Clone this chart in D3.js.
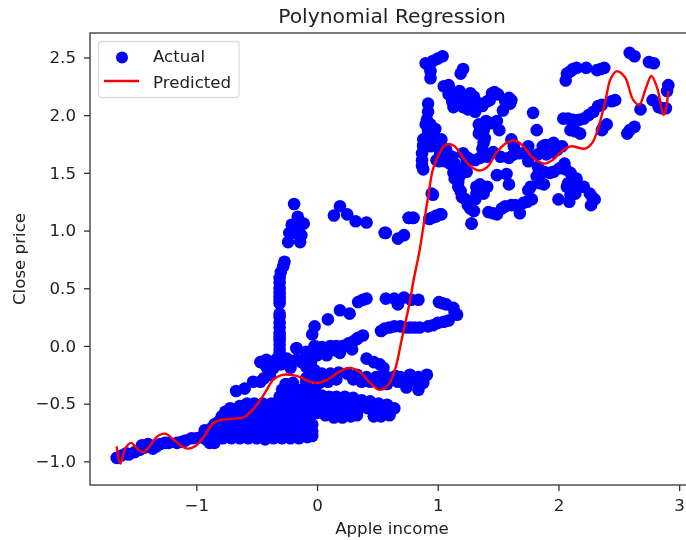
<!DOCTYPE html>
<html>
<head>
<meta charset="utf-8">
<script src="https://cdn.jsdelivr.net/npm/d3@7"></script>
<style>
html,body{margin:0;padding:0;background:#fff;overflow:hidden;}
svg{display:block;filter:blur(0.35px);}
text{font-family:"DejaVu Sans",sans-serif;fill:#222;}
</style>
</head>
<body>
<div id="chart"></div>
<script>
const chartTitle = "Polynomial Regression";
const xLabel = "Apple income";
const yLabel = "Close price";
const legendLabels = ["Actual", "Predicted"];
const xTicks = [-1, 0, 1, 2, 3];
const yTicks = [-1.0, -0.5, 0.0, 0.5, 1.0, 1.5, 2.0, 2.5];

const lowerBand = [[-1.66,-.97],[-1.62,-.95],[-1.58,-.93],[-1.56,-.94],[-1.51,-.92],[-1.47,-.90],[-1.45,-.86],[-1.43,-.88],[-1.40,-.85],[-1.36,-.89],[-1.33,-.87],[-1.30,-.85],[-1.26,-.84],[-1.23,-.84],[-1.16,-.84],[-1.12,-.83],[-1.09,-.82],[-1.04,-.80],[-1.0,-.8],[-.96,-.79],[-.92,-.81],[-.89,-.84],[-.85,-.84],[-.9,-.77],[-.93,-.73],[-.87,-.71],[-.82,-.66],[-.79,-.61],[-.72,-.54],[-.64,-.52],[-.60,-.57],[-.67,-.60],[-.70,-.58],[-.58,-.50],[-.75,-.58]];
const denseCloud = [
[-.78,-.80],[-.71,-.80],[-.64,-.80],[-.57,-.80],[-.50,-.80],[-.43,-.81],[-.36,-.80],[-.29,-.80],[-.22,-.80],[-.15,-.80],[-.08,-.79],[-.04,-.78],
[-.85,-.74],[-.78,-.74],[-.71,-.74],[-.64,-.74],[-.57,-.74],[-.50,-.74],[-.43,-.74],[-.36,-.74],[-.29,-.74],[-.22,-.74],[-.15,-.74],[-.08,-.74],[-.04,-.74],
[-.85,-.68],[-.78,-.68],[-.71,-.68],[-.64,-.68],[-.57,-.68],[-.50,-.68],[-.43,-.68],[-.36,-.68],[-.29,-.68],[-.22,-.68],[-.15,-.68],[-.08,-.68],[-.04,-.68],
[-.76,-.62],[-.69,-.62],[-.62,-.62],[-.55,-.62],[-.48,-.62],[-.41,-.62],[-.34,-.62],[-.27,-.62],[-.20,-.62],[-.13,-.62],[-.06,-.62],
[-.76,-.57],[-.69,-.56],[-.62,-.56],[-.53,-.56],[-.46,-.56],[-.39,-.56],[-.32,-.56],[-.25,-.56],[-.18,-.56],[-.11,-.56],[-.04,-.56],
[-.52,-.50],[-.45,-.50],[-.38,-.50],[-.31,-.50],[-.24,-.50],[-.17,-.50],[-.10,-.50],[-.03,-.50],[.04,-.50],
[-.31,-.44],[-.24,-.44],[-.17,-.44],[-.10,-.44],[-.03,-.44],[.04,-.43],[.10,-.44],
[-.29,-.38],[-.23,-.38],[-.16,-.38],[-.09,-.38],[-.02,-.38],[-.26,-.33],[-.2,-.32]];
const rightBand = [[.16,-.44],[.23,-.44],[.30,-.45],[.37,-.47],[.44,-.48],[.51,-.50],[.58,-.51],[.64,-.54],[0,-.58],[.07,-.60],[.14,-.62],[.21,-.62],[.28,-.61],[.33,-.60],[.47,-.61],[.53,-.61],[.60,-.60],[.07,-.54],[.14,-.54],[.21,-.54],[.28,-.54],[.35,-.54],[.42,-.54],[.49,-.55],[.56,-.55],[.11,-.49],[.18,-.49],[.25,-.49],[.32,-.50]];
const upperBand = [[-.67,-.39],[-.60,-.37],[-.53,-.31],[-.44,-.28],[-.39,-.25],[-.47,-.31],[-.47,-.14],[-.42,-.12],[-.33,-.11],[-.25,-.11],[-.17,-.02],[-.17,-.12],[-.09,-.08],[-.02,-.02],[.05,-.02],[.12,-.01],[0,-.08],[.08,-.08],[.19,-.06],[.29,-.03],[.26,.02],[.33,.06],[-.42,-.18],[-.22,-.19],[-.09,-.18],[-.02,-.21],[-.37,-.14],[-.36,-.19],[-.3,-.16],[-.24,-.15],[-.13,-.14],[-.05,-.14],[.04,-.05],[.16,-.04],[-.09,-.05],
[-.09,-.28],[-.03,-.26],[.04,-.24],[.11,-.24],[.18,-.23],[.25,-.24],[.33,-.25],[.41,-.27],[.49,-.27],[.58,-.27],[.65,-.26],[.69,-.27],[.77,-.25],[.84,-.27],[.91,-.25],[.74,-.36],[.84,-.38],[.88,-.32],[.8,-.3],[.41,-.11],[.47,-.14],[.52,-.16],[.55,-.19],[-.09,-.32],[.02,-.32],[.09,-.31],[.16,-.29],[.3,-.29],[.37,-.31],[.44,-.31],[.52,-.33],[.58,-.33],[.67,-.31],[.74,-.31]];
const column = [[-.19,1.23],[-.16,1.12],[-.11,1.06],[-.21,1.05],[-.15,1.05],[-.18,1.03],[-.23,.98],[-.13,.96],[-.24,.90],[-.14,.90],[-.18,.98],[-.27,.73],[-.28,.69],[-.30,.64],[-.31,.59],[-.31,.55],[-.31,.50],[-.31,.46],[-.31,.43],[-.31,.40],[-.31,.37],[-.31,.28],[-.31,.25],[-.31,.20],[-.31,.16],[-.31,.11],[-.31,.08],[-.31,.05],[-.31,.01],[-.31,-.03],[-.31,-.07]];
const midArcs = [[.14,1.13],[.19,1.21],[.25,1.14],[.32,1.08],[.41,1.07],[.57,.98],[.67,.93],[.72,.96],[.76,1.11],[.80,1.11],[.93,1.10],[.98,1.12],[1.03,1.14],[.96,1.31],[1.28,1.06],[-.02,.17],[-.04,.10],[.09,.23],[.19,.31],[.27,.28],[.34,.38],[.38,.40],[.41,.41],[.57,.41],[.64,.41],[.67,.36],[.72,.42],[.78,.40],[.84,.40],[1.01,.38],[1.04,.37],[1.07,.36],[1.13,.33],[1.14,.29],[1.16,.27],[1.09,.22],[1.05,.21],[1.00,.20],[.96,.18],[.92,.17],[.85,.16],[.81,.16],[.77,.16],[.73,.16],[.69,.17],[.64,.17],[.60,.16],[.56,.15],[.53,.13],[.38,.09],[.34,.07],[.30,.04],[.26,.02],[.21,.0],[.11,0],[.04,-.01],[-.02,0],[-.17,-.02],[.16,0]];
const upperCloud = [[.90,2.45],[.96,2.47],[1.04,2.51],[1.0,2.49],[.94,2.38],[.94,2.32],[.93,2.42],[1.19,2.36],[1.21,2.40],[1.05,2.25],[1.09,2.18],[1.13,2.07],[1.18,2.21],[1.20,2.13],[1.27,2.19],[1.31,2.03],[1.35,2.10],[1.41,2.12],[1.47,2.20],[1.50,2.18],[1.59,2.15],[1.60,2.10],[1.54,2.04],[1.79,2.02],[1.82,1.87],[1.49,1.95],[1.40,1.95],[1.34,1.92],[1.51,1.87],[1.34,1.84],[1.39,1.80],[1.37,1.71],[1.61,1.79],[.92,2.10],[.91,1.96],[.92,1.87],[.98,1.88],[.88,1.79],[.88,1.73],[.95,1.79],[1.03,1.79],[.87,1.61],[.88,1.53],[.99,1.61],[1.06,1.67],[1.10,1.58],[1.21,1.67],[1.31,1.61],[1.46,1.68],[1.59,1.63],[1.68,1.67],[1.75,1.73],[1.75,1.60],[1.89,1.74],[1.96,1.76],[2.03,1.73],[1.90,1.66],[1.13,1.50],[1.18,1.47],[1.17,1.38],[1.20,1.29],[1.25,1.22],[1.30,1.17],[1.35,1.40],[1.38,1.32],[1.31,1.27],[.95,1.32],[1.49,1.48],[1.57,1.49],[1.59,1.40],[1.77,1.38],[1.78,1.27],[1.71,1.24],[1.64,1.22],[1.68,1.15],[1.56,1.21],[1.49,1.14],[1.42,1.16],[1.28,1.06],[1.86,1.51],[1.88,1.40],[1.96,1.51],[2.05,1.58],[2.10,1.50],[2.15,1.45],[2.21,1.38],[2.07,1.38],[2.10,1.31],[2.00,1.27],[2.09,1.25],[2.26,1.32],[2.30,1.27],[2.27,1.22],[1.02,1.14],[.95,1.11],[.79,1.11],[.56,.98],
[1.09,2.26],[1.12,2.12],[1.16,2.16],[1.21,2.16],[1.24,2.12],[1.21,2.07],[1.27,2.10],[1.32,2.09],[1.30,2.16],[1.37,2.08],[1.43,2.13],[1.10,2.21],[1.16,2.10],[1.25,2.05],[1.56,2.12],[1.61,2.13],[1.45,2.19],[1.28,2.05],
[.92,2.03],[.90,1.92],[.94,1.92],[.92,1.83],[.96,1.83],[.88,1.74],[.94,1.73],[.99,1.77],[.87,1.67],[.87,1.56],
[1.03,1.73],[1.07,1.70],[1.02,1.67],[1.01,1.60],[1.06,1.60],[1.14,1.58],[1.12,1.64],[1.14,1.54],[1.18,1.53],[1.14,1.45],[1.24,1.51],[1.24,1.60],[1.17,1.42],[1.25,1.63],[1.19,1.34],[1.23,1.27],[1.27,1.19],[1.32,1.38],[1.41,1.38],[1.32,1.32],
[1.35,1.63],[1.41,1.64],[1.52,1.64],[1.63,1.66],[1.74,1.67],[1.83,1.66],[1.87,1.73],[1.93,1.74],[1.99,1.70],[1.95,1.68],[1.63,1.73],[1.38,1.76],[1.38,1.87],[1.35,1.90],[1.44,1.93],
[1.82,1.47],[1.88,1.51],[1.83,1.55],[1.93,1.50],[2.01,1.54],[2.06,1.53],[2.08,1.41],[2.12,1.44],[2.11,1.35],[2.18,1.38],[2.14,1.32],[2.28,1.29],[1.85,1.41],[1.75,1.35],
[1.46,1.15],[1.53,1.19],[1.61,1.22],[1.67,1.21],[1.74,1.25],[.99,1.13],[.76,1.11]];
const topRight = [[2.06,2.30],[2.07,2.36],[2.10,2.38],[2.12,2.40],[2.15,2.41],[2.23,2.41],[2.32,2.39],[2.35,2.40],[2.38,2.41],[2.59,2.54],[2.63,2.51],[2.75,2.46],[2.79,2.45],[2.91,2.26],[2.90,2.21],[2.47,2.13],[2.44,2.12],[2.68,2.05],[2.78,2.13],[2.83,2.07],[2.86,2.06],[2.89,2.06],[2.33,2.08],[2.36,2.09],[2.29,2.03],[2.25,2.0],[2.21,1.97],[2.17,1.96],[2.12,1.96],[2.08,1.97],[2.04,1.97],[2.10,1.87],[2.14,1.86],[2.18,1.84],[2.40,1.92],[2.37,1.89],[2.36,1.87],[2.63,1.90],[2.59,1.87],[2.57,1.84]];
const predicted = [[-1.66,-.87],[-1.63,-1.02],[-1.59,-.89],[-1.54,-.84],[-1.49,-.89],[-1.44,-.92],[-1.38,-.86],[-1.33,-.79],[-1.26,-.76],[-1.19,-.81],[-1.12,-.87],[-1.07,-.89],[-1.01,-.87],[-.94,-.79],[-.86,-.67],[-.79,-.64],[-.69,-.63],[-.61,-.62],[-.53,-.55],[-.44,-.42],[-.36,-.29],[-.29,-.25],[-.22,-.25],[-.14,-.27],[-.06,-.31],[.01,-.32],[.09,-.29],[.19,-.22],[.27,-.19],[.36,-.23],[.44,-.32],[.52,-.38],[.59,-.34],[.65,-.19],[.70,.05],[.76,.34],[.80,.57],[.85,.83],[.88,1.03],[.92,1.29],[.96,1.53],[1.01,1.66],[1.05,1.73],[1.09,1.75],[1.14,1.73],[1.21,1.63],[1.28,1.55],[1.34,1.52],[1.41,1.55],[1.49,1.68],[1.57,1.76],[1.64,1.78],[1.71,1.73],[1.79,1.63],[1.88,1.58],[1.95,1.61],[2.03,1.69],[2.10,1.73],[2.22,1.71],[2.28,1.76],[2.33,1.89],[2.39,2.13],[2.43,2.31],[2.48,2.38],[2.55,2.33],[2.62,2.13],[2.67,2.09],[2.72,2.22],[2.77,2.34],[2.82,2.23],[2.87,2.00],[2.89,2.05],[2.91,2.21]];

const actual = [].concat(lowerBand, denseCloud, rightBand, upperBand, column, midArcs, upperCloud, topRight);

const W = 686, H = 540;
const box = {l: 90, r: 694, t: 33, b: 485};
const x = d3.scaleLinear().domain([-1.881, 3.123]).range([box.l, box.r]);
const y = d3.scaleLinear().domain([-1.205, 2.712]).range([box.b, box.t]);

const svg = d3.select("#chart").append("svg").attr("width", W).attr("height", H);
const plot = svg.append("g");

plot.selectAll("circle.actual").data(actual).join("circle")
  .attr("class", "actual")
  .attr("cx", d => x(d[0])).attr("cy", d => y(d[1])).attr("r", 6.3).attr("fill", "#0000ff");

const line = d3.line().x(d => x(d[0])).y(d => y(d[1])).curve(d3.curveCatmullRom.alpha(0.5));
plot.append("path").datum(predicted).attr("d", line)
  .attr("fill", "none").attr("stroke", "#ff0000").attr("stroke-width", 2.4);

const xAxis = svg.append("g").attr("transform", `translate(0,${box.b})`)
  .call(d3.axisBottom(x).tickValues(xTicks).tickFormat(d => d3.format("d")(d).replace("-", "\u2212")).tickSize(6).tickPadding(8));
const yAxis = svg.append("g").attr("transform", `translate(${box.l},0)`)
  .call(d3.axisLeft(y).tickValues(yTicks).tickFormat(d => d3.format(".1f")(d).replace("-", "\u2212")).tickSize(6).tickPadding(8));
[xAxis, yAxis].forEach(a => {
  a.select(".domain").remove();
  a.selectAll("line").attr("stroke", "#333").attr("stroke-width", 1.3);
  a.selectAll("text").style("font-size", "16.67px").style("font-family", '"DejaVu Sans",sans-serif').attr("fill", "#222");
});

svg.append("rect").attr("x", box.l).attr("y", box.t).attr("width", box.r - box.l).attr("height", box.b - box.t)
  .attr("fill", "none").attr("stroke", "#333").attr("stroke-width", 1.3);

svg.append("text").attr("x", (box.l + box.r) / 2).attr("y", 23).attr("text-anchor", "middle")
  .style("font-size", "20.3px").text(chartTitle);
svg.append("text").attr("x", (box.l + box.r) / 2).attr("y", 534).attr("text-anchor", "middle")
  .style("font-size", "16.67px").text(xLabel);
svg.append("text").attr("transform", `translate(25,${(box.t + box.b) / 2}) rotate(-90)`).attr("text-anchor", "middle")
  .style("font-size", "16.67px").text(yLabel);

const lg = svg.append("g");
lg.append("rect").attr("x", 98.5).attr("y", 41.5).attr("width", 140.5).attr("height", 56).attr("rx", 3)
  .attr("fill", "#fff").attr("fill-opacity", 0.8).attr("stroke", "#ddd").attr("stroke-width", 1.3);
lg.append("circle").attr("cx", 122).attr("cy", 57.5).attr("r", 6).attr("fill", "#0000ff");
lg.append("line").attr("x1", 104).attr("x2", 139).attr("y1", 81).attr("y2", 81).attr("stroke", "#ff0000").attr("stroke-width", 2.4);
lg.selectAll("text").data(legendLabels).join("text")
  .attr("x", 153).attr("y", (d, i) => 62.3 + i * 25.4).style("font-size", "16.67px").text(d => d);
</script>
</body>
</html>
